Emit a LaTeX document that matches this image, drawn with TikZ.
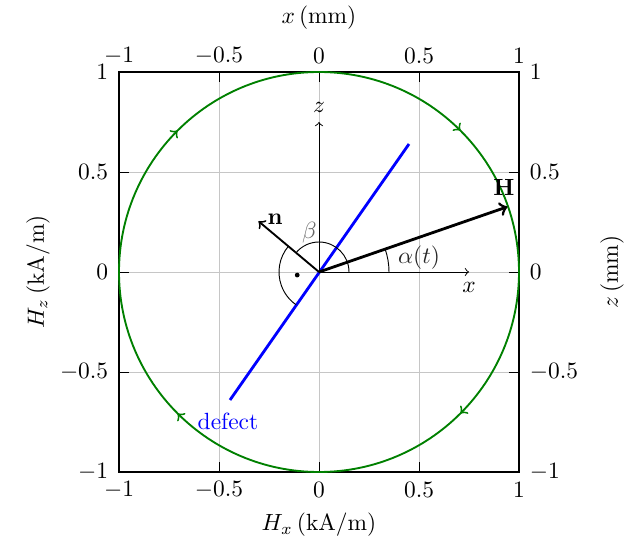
\documentclass[tikz,border=0pt]{standalone}
\usetikzlibrary{decorations.markings}
\begin{document}
\begin{tikzpicture}[x=3cm,y=3cm,
  gridline/.style={gray!45,line width=0.35pt},
  tickmark/.style={black,line width=0.4pt},
  axisbox/.style={black,semithick},
  circ/.style={green!50!black,thick,
    postaction={decorate},
    decoration={markings,
      mark=at position 0.125 with {\arrow{>}},
      mark=at position 0.375 with {\arrow{>}},
      mark=at position 0.625 with {\arrow{>}},
      mark=at position 0.875 with {\arrow{>}}}},
  defectline/.style={blue,very thick},
  smallaxis/.style={->,line width=0.4pt},
  vecH/.style={->,very thick},
  vecn/.style={->,thick},
  anglearc/.style={line width=0.4pt},
  lbl/.style={inner sep=1pt}]
\useasboundingbox (-1.595,-1.365) rectangle (1.525,1.36);
% grid
\foreach \v in {-1,-0.5,0,0.5,1}{
  \draw[gridline] (\v,-1) -- (\v,1);
  \draw[gridline] (-1,\v) -- (1,\v);
}
% ticks
\foreach \v in {-1,-0.5,0,0.5,1}{
  \draw[tickmark] (\v,-1) -- ++(0,0.05);
  \draw[tickmark] (\v,1) -- ++(0,-0.05);
  \draw[tickmark] (-1,\v) -- ++(0.05,0);
  \draw[tickmark] (1,\v) -- ++(-0.05,0);
}
\draw[axisbox] (-1,-1) rectangle (1,1);
% tick labels
\foreach \v/\t [count=\i] in {-1/$-1$,-0.5/$-0.5$,0/$0$,0.5/$0.5$,1/$1$}{
  \node[lbl] (bl\i) at (\v,-1.09) {\t};
  \node[lbl] (tl\i) at (\v,1.08) {\t};
  \node[lbl,anchor=east] (ll\i) at (-1.04,\v) {\t};
  \node[lbl,anchor=west] (rl\i) at (1.04,\v) {\t};
}
% axis labels
\node (xmm) at (0,1.27) {$x\,$(mm)};
\node (Hx) at (0,-1.265) {$H_x\,$(kA/m)};
\node[rotate=90] (Hz) at (-1.405,0) {$H_z\,$(kA/m)};
\node[rotate=90] (zmm) at (1.465,0) {$z\,$(mm)};
% circle
\draw[circ] (1,0) arc[start angle=0,end angle=-360,radius=1];
% coordinates
\coordinate (O) at (0,0);
\coordinate (Dlo) at (-0.445,-0.64);
\coordinate (Dhi) at (0.45,0.64);
\coordinate (Xtip) at (0.75,0);
\coordinate (Ztip) at (0,0.75);
\coordinate (Htip) at (0.942,0.326);
\coordinate (ntip) at (140:0.395);
% defect
\draw[defectline] (Dlo) -- (Dhi);
\node[blue,lbl] (deflbl) at (-0.455,-0.745) {defect};
% local axes
\draw[smallaxis] (O) -- (Xtip);
\node[lbl] (xlbl) at (0.75,-0.075) {$x$};
\draw[smallaxis] (O) -- (Ztip);
\node[lbl] (zlbl) at (0,0.825) {$z$};
% angle arcs
\draw[anglearc] (0.35,0) arc[start angle=0,end angle=19,radius=0.35];
\node[lbl,black!85] (alpha) at (0.5,0.07) {$\alpha(t)$};
\draw[anglearc] (0.15,0) arc[start angle=0,end angle=140,radius=0.15];
\node[lbl,black!60] (beta) at (-0.048,0.195) {$\beta$};
\draw[anglearc] (140:0.2) arc[start angle=140,end angle=235,radius=0.2];
\fill (188:0.11) circle (0.012);
% vectors
\draw[vecn] (O) -- (ntip);
\node[lbl] (nlbl) at (-0.22,0.265) {$\mathbf{n}$};
\draw[vecH] (O) -- (Htip);
\node[lbl] (Hlbl) at (0.925,0.425) {$\mathbf{H}$};
\end{tikzpicture}
\end{document}
